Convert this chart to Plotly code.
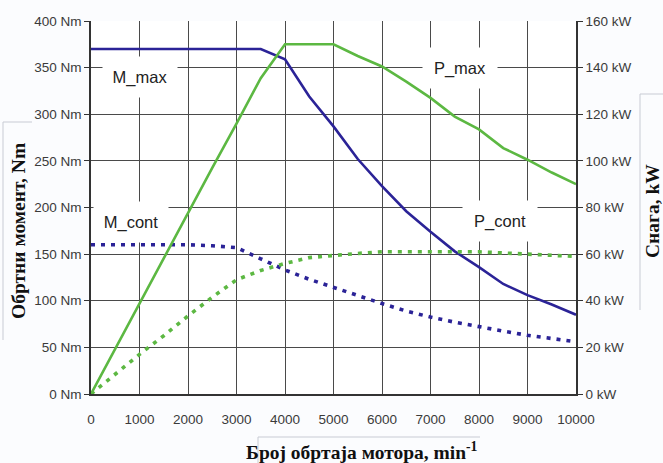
import plotly.graph_objects as go

# Motor speed, min^-1
rpm = [0, 500, 1000, 1500, 2000, 2500, 3000, 3500, 4000, 4500, 5000,
       5500, 6000, 6500, 7000, 7500, 8000, 8500, 9000, 9500, 10000]

# Torque curves, Nm
m_max = [370, 370, 370, 370, 370, 370, 370, 370, 359, 319, 287,
         252, 223, 196, 174, 153, 136, 118, 106, 96, 85]
m_cont = [160, 160, 160, 160, 160, 159, 157, 145, 133, 123, 114,
          105, 97, 89, 82.5, 77, 72, 67.5, 63, 59.5, 56]

# Power curves, kW
p_max = [0, 19.5, 39, 58, 77.5, 97, 116, 135.5, 150, 150, 150,
         145, 140.5, 134, 127, 119, 113.5, 105.5, 100.5, 95, 90]
p_cont = [0, 8.5, 17, 25, 33.5, 41.5, 49, 53, 56, 58.5, 59.5,
          60.3, 61, 61, 61, 61, 61, 60.5, 60, 59.5, 59]

torque_ticks = [0, 50, 100, 150, 200, 250, 300, 350, 400]
torque_labels = ["0 Nm", "50 Nm", "100 Nm", "150 Nm", "200 Nm",
                 "250 Nm", "300 Nm", "350 Nm", "400 Nm"]
power_ticks = [0, 20, 40, 60, 80, 100, 120, 140, 160]
power_labels = ["0 kW", "20 kW", "40 kW", "60 kW", "80 kW",
                "100 kW", "120 kW", "140 kW", "160 kW"]
rpm_ticks = [0, 1000, 2000, 3000, 4000, 5000, 6000, 7000, 8000, 9000, 10000]
rpm_labels = ["0", "1000", "2000", "3000", "4000", "5000",
              "6000", "7000", "8000", "9000", "10000"]

BLUE = "#2b2397"
GREEN = "#5cb842"
GRID = "#4a4a4a"
TICK_FONT = dict(family="Liberation Sans, Arial, sans-serif", size=13.5, color="#3a3a3a")
TITLE_FONT = dict(family="Liberation Serif, Times New Roman, serif", size=19.5, color="#111111")
LABEL_FONT = dict(family="Liberation Sans, Arial, sans-serif", size=16.5, color="#222222")

W, H = 663, 463
L, R, T, B = 91, 87, 21, 69
PW, PH = W - L - R, H - T - B


def px(x):
    return (x - L) / PW


def py(y):
    return (H - B - y) / PH


fig = go.Figure()
fig.add_trace(go.Scatter(x=rpm, y=m_max, mode="lines", name="M_max",
                         line=dict(color=BLUE, width=2.6)))
fig.add_trace(go.Scatter(x=rpm, y=m_cont, mode="lines", name="M_cont",
                         line=dict(color=BLUE, width=3.6, dash="4px,6px")))
fig.add_trace(go.Scatter(x=rpm, y=p_max, mode="lines", name="P_max", yaxis="y2",
                         line=dict(color=GREEN, width=2.6)))
fig.add_trace(go.Scatter(x=rpm, y=p_cont, mode="lines", name="P_cont", yaxis="y2",
                         line=dict(color=GREEN, width=3.6, dash="4px,6px")))

# Curve labels on white boxes that break the grid
labels = [
    ("M_max", 1000, 340, "y"),
    ("P_max", 7600, 140, "y2"),
    ("M_cont", 830, 184, "y"),
    ("P_cont", 8430, 74, "y2"),
]
annotations = []
for text, xv, yv, yref in labels:
    annotations.append(dict(text=text, x=xv, y=yv, xref="x", yref=yref,
                            xanchor="center", yanchor="middle",
                            showarrow=False, bgcolor="white", width=72, height=38,
                            font=LABEL_FONT))

annotations += [
    dict(text="<b>Обртни момент, Nm</b>", x=px(19), y=py(231), xref="paper", yref="paper",
         xanchor="center", yanchor="middle", textangle=-90, showarrow=False, font=TITLE_FONT),
    dict(text="<b>Снага, kW</b>", x=px(652), y=py(211), xref="paper", yref="paper",
         xanchor="center", yanchor="middle", textangle=-90, showarrow=False, font=TITLE_FONT),
    dict(text="<b>Број обртаја мотора, min<sup>-1</sup></b>", x=px(362), y=py(451),
         xref="paper", yref="paper", xanchor="center", yanchor="middle",
         showarrow=False, font=TITLE_FONT),
]

BOX = dict(color="#c8cbd4", width=1)
shapes = [
    dict(type="line", xref="paper", yref="paper", x0=px(3), x1=px(3), y0=py(122), y1=py(340), line=BOX),
    dict(type="line", xref="paper", yref="paper", x0=px(3), x1=px(32), y0=py(122), y1=py(122), line=BOX),
    dict(type="line", xref="paper", yref="paper", x0=px(640), x1=px(640), y0=py(94), y1=py(310), line=BOX),
    dict(type="line", xref="paper", yref="paper", x0=px(640), x1=px(663), y0=py(94), y1=py(94), line=BOX),
    dict(type="line", xref="paper", yref="paper", x0=px(258), x1=px(480), y0=py(437), y1=py(437), line=BOX),
    dict(type="line", xref="paper", yref="paper", x0=px(258), x1=px(258), y0=py(437), y1=py(463), line=BOX),
]

fig.update_layout(
    width=W, height=H,
    margin=dict(l=L, r=R, t=T, b=B, pad=0),
    paper_bgcolor="#fbfcfe",
    plot_bgcolor="white",
    showlegend=False,
    annotations=annotations,
    shapes=shapes,
    xaxis=dict(range=[0, 10000], tickvals=rpm_ticks, ticktext=rpm_labels, showgrid=True,
               gridcolor=GRID, gridwidth=1.3, showline=True, linecolor="#333333", linewidth=1.5,
               zeroline=False, ticks="", ticklabelstandoff=12, tickfont=TICK_FONT),
    yaxis=dict(range=[0, 400], tickvals=torque_ticks, ticktext=torque_labels, showgrid=True,
               gridcolor=GRID, gridwidth=1.3, showline=True, linecolor="#333333", linewidth=1.5,
               zeroline=False, ticks="outside", ticklen=5, tickcolor="#333333", tickfont=TICK_FONT),
    yaxis2=dict(range=[0, 160], tickvals=power_ticks, ticktext=power_labels, overlaying="y",
                side="right", showgrid=False, showline=True, linecolor="#333333", linewidth=1.5,
                zeroline=False, ticks="outside", ticklen=5, tickcolor="#333333", tickfont=TICK_FONT),
)

fig.write_html("out.html")
